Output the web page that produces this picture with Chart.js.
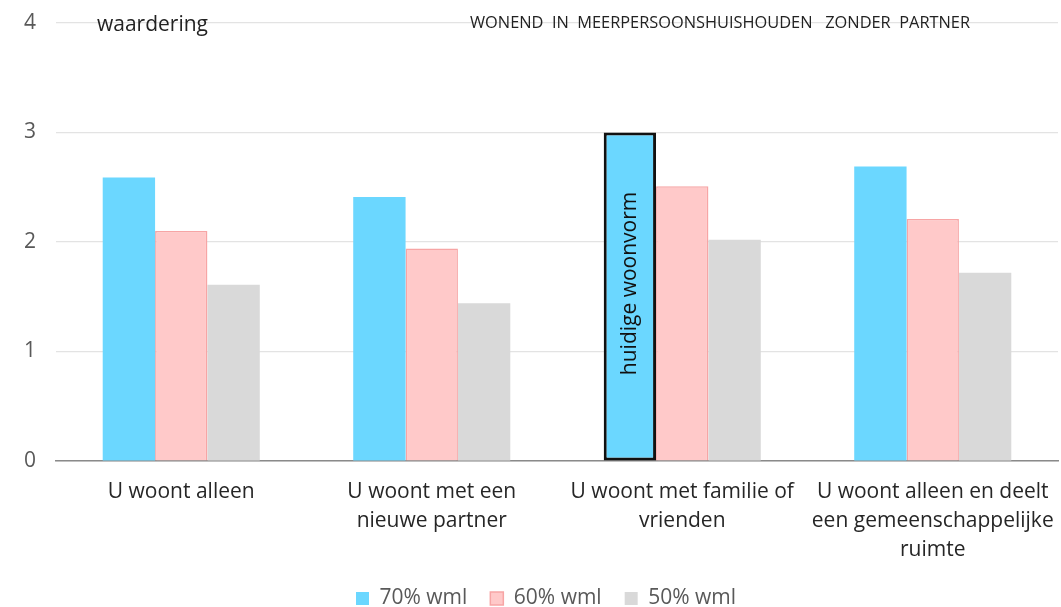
<!DOCTYPE html>
<html>
<head>
<meta charset="utf-8">
<script src="https://cdn.jsdelivr.net/npm/chart.js@4"></script>
<style>
  body { margin: 0; background: #fff; }
  #wrap { width: 1061px; height: 607px; position: relative; }
</style>
</head>
<body>
<div id="wrap"><canvas id="chart"></canvas></div>
<script>
const categories = [
  ['U woont alleen'],
  ['U woont met een', 'nieuwe partner'],
  ['U woont met familie of', 'vrienden'],
  ['U woont alleen en deelt', 'een gemeenschappelijke', 'ruimte']
];
const seriesNames = ['70% wml', '60% wml', '50% wml'];
const wml70 = [2.59, 2.41, 3.0, 2.69];
const wml60 = [2.10, 1.94, 2.51, 2.21];
const wml50 = [1.61, 1.44, 2.02, 1.72];
const yTicks = [0, 1, 2, 3, 4];
const highlightIndex = 2; // huidige woonvorm
const highlightLabel = 'huidige woonvorm';
const axisTitle = 'waardering';
const chartTitle = 'WONEND  IN  MEERPERSOONSHUISHOUDEN   ZONDER  PARTNER';

const FONT = "'Open Sans', sans-serif";

// extra text: the small titles and the rotated label in the highlighted bar
const textPlugin = {
  id: 'texts',
  afterLayout(chart) {
    // legend sits lower and a bit right of center in the original
    const lg = chart.legend;
    lg.top += 12;
    lg.bottom += 12;
    lg.left += 17;
    lg.right += 17;
  },
  afterDatasetsDraw(chart) {
    const ctx = chart.ctx;
    const area = chart.chartArea;
    ctx.save();
    ctx.fillStyle = '#222';
    ctx.textBaseline = 'middle';
    ctx.textAlign = 'left';
    ctx.font = '21px ' + FONT;
    ctx.fillText(axisTitle, area.left + 41, area.top + 2);

    // condensed caps title, squeezed to its width
    ctx.font = '16px ' + FONT;
    const w = ctx.measureText(chartTitle).width;
    ctx.translate(470, area.top);
    ctx.scale(500 / w, 1);
    ctx.fillText(chartTitle, 0, 0);
    ctx.restore();

    const bar = chart.getDatasetMeta(0).data[highlightIndex];
    ctx.save();
    ctx.translate(bar.x, (bar.y + bar.base) / 2 - 13);
    ctx.rotate(-Math.PI / 2);
    ctx.textAlign = 'center';
    ctx.textBaseline = 'middle';
    ctx.fillStyle = '#111';
    ctx.font = '21px ' + FONT;
    ctx.fillText(highlightLabel, 0, 0);
    ctx.restore();
  }
};

new Chart(document.getElementById('chart'), {
  type: 'bar',
  data: {
    labels: categories,
    datasets: [
      {
        label: seriesNames[0],
        data: wml70,
        backgroundColor: '#6bd7ff',
        borderColor: wml70.map((v, i) => i === highlightIndex ? '#111' : '#6bd7ff'),
        borderWidth: wml70.map((v, i) => i === highlightIndex ? 3 : 0),
        borderSkipped: false
      },
      {
        label: seriesNames[1],
        data: wml60,
        backgroundColor: '#ffc9c9',
        borderColor: '#f7a5a5',
        borderWidth: 1.5,
        borderSkipped: 'bottom'
      },
      {
        label: seriesNames[2],
        data: wml50,
        backgroundColor: '#d9d9d9',
        borderWidth: 0
      }
    ]
  },
  options: {
    responsive: true,
    maintainAspectRatio: false,
    animation: false,
    layout: { padding: { top: 23, right: 3, left: 0, bottom: 0 } },
    datasets: { bar: { categoryPercentage: 0.627, barPercentage: 1.0 } },
    plugins: {
      legend: {
        position: 'bottom',
        labels: {
          font: { family: FONT, size: 21 },
          color: '#595959',
          boxWidth: 13,
          boxHeight: 13,
          padding: 23
        }
      },
      tooltip: { enabled: false },
      title: { display: false }
    },
    scales: {
      x: {
        grid: { display: false, drawTicks: false },
        border: { display: true, color: '#8a8a8a', width: 1.5 },
        ticks: {
          font: { family: FONT, size: 21, lineHeight: 1.38 },
          color: '#262626',
          padding: 17,
          maxRotation: 0,
          autoSkip: false
        },
        afterFit(scale) {
          scale.height = 92;
          scale.paddingLeft = 0;
          scale.paddingRight = 0;
          // third label line runs below the scale box, don't clip it
          scale._computeLabelArea = () => undefined;
        }
      },
      y: {
        min: 0,
        max: 4,
        afterBuildTicks(scale) { scale.ticks = yTicks.map(v => ({ value: v })); },
        grid: { color: '#e3e3e3', drawTicks: false, lineWidth: 1.2 },
        border: { display: false },
        ticks: {
          font: { family: FONT, size: 21 },
          color: '#595959',
          padding: 20
        },
        afterFit(scale) {
          scale.width = 56;
          scale.paddingTop = 0;
          scale.paddingBottom = 0;
        }
      }
    }
  },
  plugins: [textPlugin]
});
</script>
</body>
</html>
